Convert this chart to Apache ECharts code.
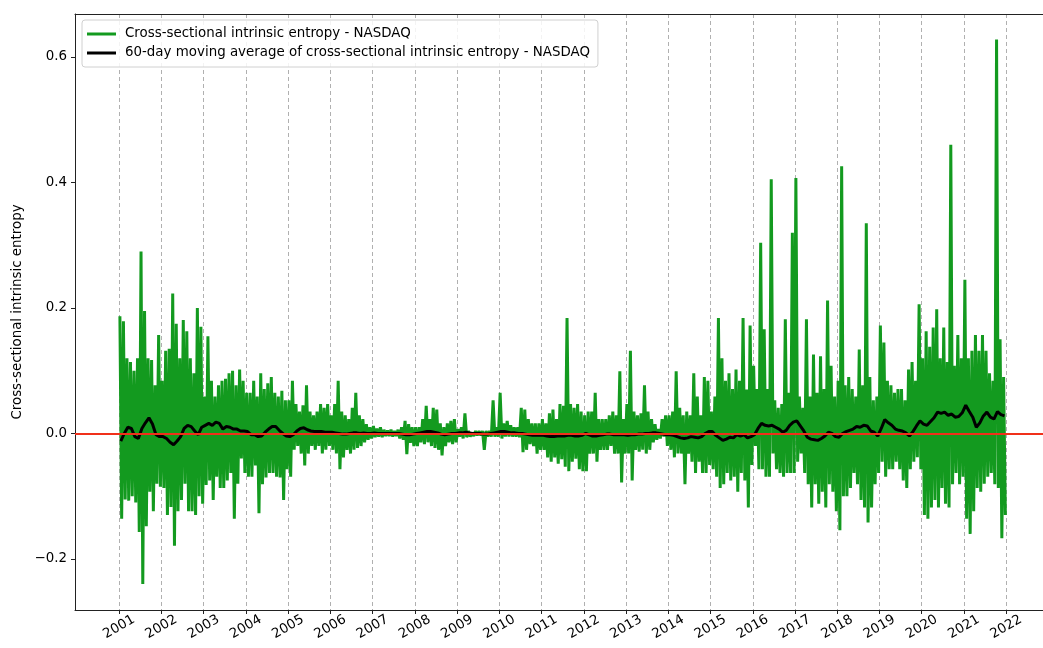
<!DOCTYPE html>
<html>
<head>
<meta charset="utf-8">
<script src="https://cdn.jsdelivr.net/npm/echarts@6/dist/echarts.min.js"></script>
<style>
  html, body { margin: 0; padding: 0; background: #fff; }
  #chart { width: 1043px; height: 648px; }
</style>
</head>
<body>
<div id="chart"></div>
<script>
// years covered by the series, 12 monthly readings each
const years = [2001, 2002, 2003, 2004, 2005, 2006, 2007, 2008, 2009, 2010, 2011,
               2012, 2013, 2014, 2015, 2016, 2017, 2018, 2019, 2020, 2021];
const tickYears = [2001, 2002, 2003, 2004, 2005, 2006, 2007, 2008, 2009, 2010, 2011,
                   2012, 2013, 2014, 2015, 2016, 2017, 2018, 2019, 2020, 2021, 2022];

// monthly highs of the daily series (peaks)
const rawHigh = [
  0.187, 0.179, 0.120, 0.114, 0.100, 0.120, 0.290, 0.195, 0.120, 0.117, 0.077, 0.157, // 2001
  0.084, 0.132, 0.135, 0.223, 0.175, 0.120, 0.181, 0.163, 0.120, 0.096, 0.200, 0.170, // 2002
  0.059, 0.155, 0.084, 0.059, 0.077, 0.084, 0.087, 0.096, 0.100, 0.077, 0.102, 0.084, // 2003
  0.065, 0.065, 0.084, 0.059, 0.096, 0.071, 0.080, 0.090, 0.065, 0.059, 0.068, 0.053, // 2004
  0.053, 0.084, 0.047, 0.035, 0.045, 0.077, 0.035, 0.029, 0.035, 0.047, 0.041, 0.047, // 2005
  0.029, 0.047, 0.084, 0.035, 0.029, 0.023, 0.041, 0.065, 0.029, 0.023, 0.015, 0.010, // 2006
  0.012, 0.008, 0.010, 0.006, 0.005, 0.006, 0.004, 0.006, 0.010, 0.020, 0.015, 0.010, // 2007
  0.010, 0.010, 0.023, 0.044, 0.023, 0.041, 0.038, 0.016, 0.010, 0.016, 0.020, 0.023, // 2008
  0.007, 0.010, 0.032, 0.004, 0.001, 0.004, 0.004, 0.004, 0.004, 0.004, 0.053, 0.010, // 2009
  0.065, 0.016, 0.020, 0.013, 0.010, 0.010, 0.041, 0.038, 0.023, 0.016, 0.016, 0.016, // 2010
  0.023, 0.016, 0.032, 0.038, 0.023, 0.047, 0.044, 0.184, 0.047, 0.041, 0.047, 0.035, // 2011
  0.029, 0.035, 0.035, 0.065, 0.023, 0.023, 0.023, 0.029, 0.035, 0.029, 0.099, 0.023, // 2012
  0.047, 0.132, 0.035, 0.029, 0.032, 0.077, 0.035, 0.023, 0.015, 0.007, 0.023, 0.029, // 2013
  0.029, 0.035, 0.099, 0.041, 0.029, 0.035, 0.029, 0.096, 0.059, 0.029, 0.090, 0.084, // 2014
  0.035, 0.059, 0.184, 0.120, 0.084, 0.096, 0.071, 0.102, 0.084, 0.184, 0.070, 0.172, // 2015
  0.108, 0.071, 0.304, 0.166, 0.071, 0.405, 0.053, 0.041, 0.047, 0.182, 0.065, 0.320, // 2016
  0.407, 0.059, 0.041, 0.182, 0.059, 0.126, 0.065, 0.123, 0.071, 0.212, 0.108, 0.059, // 2017
  0.084, 0.426, 0.077, 0.090, 0.071, 0.059, 0.134, 0.077, 0.335, 0.090, 0.053, 0.059, // 2018
  0.172, 0.145, 0.084, 0.077, 0.065, 0.071, 0.071, 0.053, 0.102, 0.114, 0.084, 0.206, // 2019
  0.120, 0.163, 0.138, 0.169, 0.198, 0.120, 0.169, 0.114, 0.460, 0.108, 0.157, 0.120, // 2020
  0.245, 0.120, 0.132, 0.157, 0.132, 0.157, 0.132, 0.096, 0.084, 0.628, 0.150, 0.090  // 2021
];

// monthly lows of the daily series (troughs)
const rawLow = [
  -0.136, -0.105, -0.107, -0.100, -0.110, -0.157, -0.240, -0.148, -0.093, -0.124, -0.080, -0.085, // 2001
  -0.087, -0.130, -0.117, -0.179, -0.124, -0.106, -0.080, -0.124, -0.124, -0.130, -0.100, -0.112, // 2002
  -0.082, -0.075, -0.106, -0.069, -0.087, -0.087, -0.075, -0.063, -0.136, -0.080, -0.040, -0.063, // 2003
  -0.069, -0.069, -0.051, -0.127, -0.081, -0.070, -0.063, -0.063, -0.069, -0.070, -0.106, -0.057, // 2004
  -0.069, -0.026, -0.020, -0.032, -0.051, -0.032, -0.020, -0.026, -0.020, -0.032, -0.026, -0.020, // 2005
  -0.026, -0.032, -0.057, -0.038, -0.026, -0.032, -0.026, -0.023, -0.020, -0.014, -0.010, -0.008, // 2006
  -0.006, -0.005, -0.006, -0.004, -0.004, -0.005, -0.004, -0.008, -0.010, -0.033, -0.015, -0.020, // 2007
  -0.020, -0.014, -0.017, -0.014, -0.020, -0.023, -0.026, -0.035, -0.020, -0.014, -0.017, -0.014, // 2008
  -0.005, -0.008, -0.006, -0.005, -0.004, -0.003, -0.003, -0.026, -0.005, -0.005, -0.005, -0.005, // 2009
  -0.008, -0.005, -0.005, -0.005, -0.005, -0.006, -0.030, -0.026, -0.017, -0.020, -0.032, -0.026, // 2010
  -0.026, -0.038, -0.045, -0.038, -0.048, -0.041, -0.053, -0.060, -0.045, -0.040, -0.057, -0.060, // 2011
  -0.060, -0.032, -0.032, -0.045, -0.026, -0.026, -0.026, -0.020, -0.032, -0.032, -0.078, -0.032, // 2012
  -0.032, -0.075, -0.026, -0.029, -0.026, -0.032, -0.026, -0.014, -0.010, -0.008, -0.005, -0.020, // 2013
  -0.026, -0.038, -0.032, -0.032, -0.081, -0.032, -0.045, -0.063, -0.045, -0.063, -0.063, -0.050, // 2014
  -0.057, -0.069, -0.087, -0.081, -0.063, -0.075, -0.069, -0.093, -0.063, -0.075, -0.118, -0.050, // 2015
  -0.020, -0.057, -0.057, -0.069, -0.069, -0.032, -0.057, -0.063, -0.069, -0.063, -0.063, -0.063, // 2016
  -0.045, -0.032, -0.063, -0.081, -0.118, -0.081, -0.112, -0.093, -0.118, -0.081, -0.093, -0.124, // 2017
  -0.154, -0.100, -0.100, -0.087, -0.063, -0.081, -0.106, -0.118, -0.142, -0.118, -0.081, -0.063, // 2018
  -0.045, -0.069, -0.057, -0.057, -0.045, -0.057, -0.075, -0.087, -0.057, -0.045, -0.038, -0.057, // 2019
  -0.130, -0.136, -0.118, -0.106, -0.118, -0.087, -0.112, -0.118, -0.081, -0.063, -0.081, -0.069, // 2020
  -0.136, -0.160, -0.124, -0.087, -0.093, -0.080, -0.069, -0.063, -0.081, -0.087, -0.167, -0.130  // 2021
];

// 60-day moving average, one reading per month
const movingAvg = [
  -0.012, 0.000, 0.010, 0.008, -0.005, -0.008, 0.008, 0.017, 0.025, 0.015, -0.002, -0.005, // 2001
  -0.005, -0.008, -0.014, -0.018, -0.012, -0.005, 0.008, 0.013, 0.011, 0.004, -0.002, 0.010, // 2002
  0.013, 0.016, 0.013, 0.018, 0.016, 0.007, 0.011, 0.010, 0.007, 0.007, 0.004, 0.004,        // 2003
  0.003, -0.002, -0.002, -0.005, -0.004, 0.002, 0.007, 0.011, 0.011, 0.005, 0.000, -0.004,   // 2004
  -0.005, -0.002, 0.004, 0.008, 0.009, 0.006, 0.004, 0.003, 0.003, 0.003, 0.002, 0.002,     // 2005
  0.002, 0.001, 0.000, -0.001, -0.001, 0.000, 0.001, 0.001, 0.000, 0.001, 0.000, 0.000,     // 2006
  0.001, 0.000, 0.000, 0.000, 0.000, 0.000, 0.000, 0.000, -0.001, -0.002, -0.002, -0.001,   // 2007
  0.000, 0.001, 0.002, 0.003, 0.003, 0.002, 0.001, -0.001, -0.002, -0.001, 0.000, 0.000,    // 2008
  0.001, 0.001, 0.002, 0.001, 0.000, 0.000, 0.000, -0.001, -0.001, 0.000, 0.001, 0.002,     // 2009
  0.003, 0.003, 0.002, 0.001, 0.001, 0.000, 0.000, -0.001, -0.002, -0.003, -0.003, -0.003,  // 2010
  -0.003, -0.004, -0.005, -0.005, -0.004, -0.004, -0.004, -0.003, -0.003, -0.004, -0.004, -0.003, // 2011
  0.000, -0.002, -0.004, -0.004, -0.003, -0.002, -0.001, -0.001, -0.002, -0.002, -0.002, -0.002, // 2012
  -0.003, -0.002, -0.002, -0.001, -0.001, 0.000, 0.000, 0.001, 0.001, 0.000, -0.001, -0.002, // 2013
  -0.002, -0.003, -0.005, -0.007, -0.008, -0.007, -0.005, -0.006, -0.007, -0.005, 0.000, 0.003, // 2014
  0.003, -0.003, -0.007, -0.011, -0.009, -0.006, -0.007, -0.002, -0.004, -0.002, -0.007, -0.005, // 2015
  -0.002, 0.008, 0.016, 0.013, 0.012, 0.013, 0.010, 0.007, 0.002, 0.005, 0.013, 0.018,      // 2016
  0.020, 0.012, 0.004, -0.006, -0.009, -0.010, -0.011, -0.008, -0.004, 0.002, 0.000, -0.005, // 2017
  -0.006, 0.000, 0.003, 0.005, 0.007, 0.011, 0.010, 0.013, 0.012, 0.004, 0.002, -0.004,     // 2018
  0.008, 0.022, 0.017, 0.013, 0.007, 0.005, 0.004, 0.001, -0.004, 0.003, 0.012, 0.020,      // 2019
  0.015, 0.013, 0.019, 0.025, 0.034, 0.032, 0.034, 0.029, 0.031, 0.026, 0.027, 0.033,       // 2020
  0.045, 0.035, 0.026, 0.010, 0.017, 0.028, 0.034, 0.026, 0.023, 0.035, 0.030, 0.028        // 2021
];

// build the zigzag of the daily series: peak then trough within each month
const rawSeries = [];
const maSeries = [];
years.forEach((y, yi) => {
  for (let m = 0; m < 12; m++) {
    const i = yi * 12 + m;
    rawSeries.push([y + (m + 0.25) / 12, rawHigh[i]]);
    rawSeries.push([y + (m + 0.75) / 12, rawLow[i]]);
    maSeries.push([y + (m + 0.5) / 12, movingAvg[i]]);
  }
});

const font = 'DejaVu Sans';
const green = '#139a1f';
const chart = echarts.init(document.getElementById('chart'), null, { renderer: 'canvas' });

const option = {
  animation: false,
  backgroundColor: '#fff',
  textStyle: { fontFamily: font },
  // right edge of the frame sits just outside the picture
  grid: { left: 75, top: 14, right: 0, bottom: 38, show: false },
  legend: {
    orient: 'vertical',
    left: 82, top: 20,
    padding: [7, 8, 7, 5],
    itemGap: 5,
    itemWidth: 29, itemHeight: 3,
    icon: 'rect',
    borderColor: '#d0d0d0', borderWidth: 1, borderRadius: 3,
    backgroundColor: 'rgba(255,255,255,0.85)',
    textStyle: { fontFamily: font, fontSize: 13.4, lineHeight: 14, color: '#000', padding: [0, 0, 0, 4] },
    data: [
      'Cross-sectional intrinsic entropy - NASDAQ',
      '60-day moving average of cross-sectional intrinsic entropy - NASDAQ'
    ]
  },
  xAxis: [
    {
      type: 'value',
      min: 1999.958, max: 2022.87,
      axisLine: { show: true, onZero: false, lineStyle: { color: '#222', width: 1 } },
      axisTick: { show: true, length: 4, customValues: tickYears, lineStyle: { color: '#222' } },
      axisLabel: {
        customValues: tickYears,
        rotate: 30, align: 'center', verticalAlign: 'middle', margin: 17,
        fontFamily: font, fontSize: 13.4, color: '#000',
        formatter: v => String(Math.round(v))
      },
      splitLine: {
        show: true, customValues: tickYears,
        lineStyle: { color: '#b0b0b0', type: [4, 3], width: 1 }
      }
    },
    {
      // top frame line only
      type: 'value', position: 'top',
      min: 1999.958, max: 2022.87,
      axisLine: { show: true, onZero: false, lineStyle: { color: '#222', width: 1 } },
      axisTick: { show: false }, axisLabel: { show: false }, splitLine: { show: false }
    }
  ],
  yAxis: {
    type: 'value',
    min: -0.2813, max: 0.6685,
    name: 'Cross-sectional intrinsic entropy',
    nameLocation: 'middle', nameGap: 50,
    nameTextStyle: { fontFamily: font, fontSize: 13.4, color: '#000' },
    axisLine: { show: true, onZero: false, lineStyle: { color: '#222', width: 1 } },
    axisTick: { show: true, length: 4, lineStyle: { color: '#222' } },
    splitLine: { show: false },
    axisLabel: {
      showMinLabel: false, showMaxLabel: false,
      margin: 8, fontFamily: font, fontSize: 13.4, color: '#000',
      formatter: v => Math.abs(v * 5 - Math.round(v * 5)) < 1e-6
        ? v.toFixed(1).replace('-', '\u2212') : ''
    }
  },
  series: [
    {
      name: 'Cross-sectional intrinsic entropy - NASDAQ',
      type: 'line',
      data: rawSeries,
      showSymbol: false, symbol: 'none',
      sampling: null,
      lineStyle: { color: green, width: 3 },
      itemStyle: { color: green },
      z: 2,
      markLine: {
        silent: true, symbol: 'none',
        label: { show: false },
        lineStyle: { color: '#f0301a', width: 2, type: 'solid' },
        data: [{ yAxis: 0 }]
      }
    },
    {
      name: '60-day moving average of cross-sectional intrinsic entropy - NASDAQ',
      type: 'line',
      data: maSeries,
      showSymbol: false, symbol: 'none',
      lineStyle: { color: '#000', width: 3 },
      itemStyle: { color: '#000' },
      z: 4
    }
  ]
};

chart.setOption(option);
</script>
</body>
</html>
